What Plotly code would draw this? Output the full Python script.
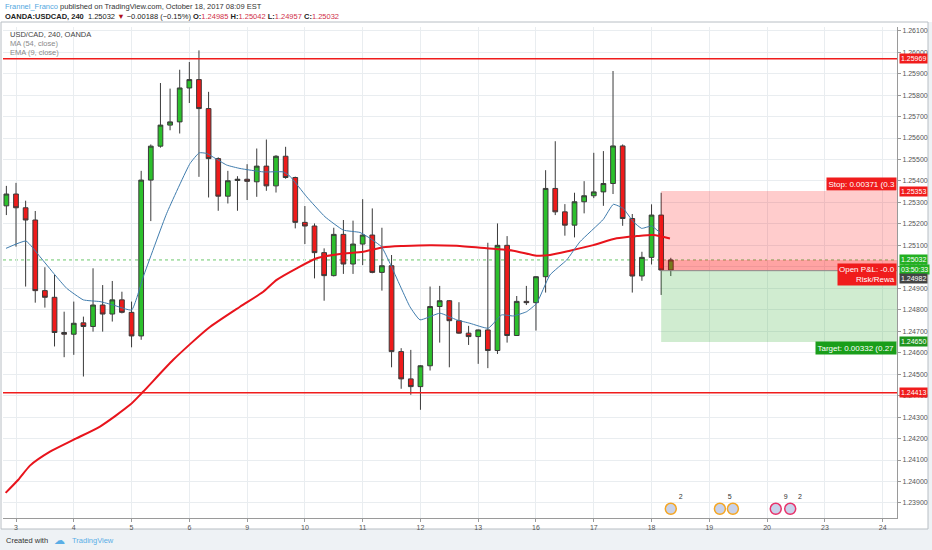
import plotly.graph_objects as go

# ---------------- data ----------------
bar_index = list(range(70))
open_ = [1.25284, 1.25339, 1.25275, 1.25218, 1.24889, 1.24858, 1.24694, 1.24686, 1.24739, 1.24722,
         1.24822, 1.24780, 1.24846, 1.24788, 1.24678, 1.25404, 1.25562, 1.25660, 1.25675, 1.25833,
         1.25872, 1.25737, 1.25504, 1.25329, 1.25402, 1.25408, 1.25396, 1.25469, 1.25377, 1.25515,
         1.25416, 1.25207, 1.25190, 1.25066, 1.24959, 1.25151, 1.25013, 1.25106, 1.25148, 1.24974,
         1.25005, 1.24605, 1.24478, 1.24442, 1.24539, 1.24815, 1.24842, 1.24749, 1.24691, 1.24675,
         1.24706, 1.24610, 1.25100, 1.24680, 1.24839, 1.24833, 1.24954, 1.25365, 1.25256, 1.25194,
         1.25303, 1.25331, 1.25349, 1.25388, 1.25563, 1.25225, 1.24957, 1.25044, 1.25241, 1.24985]
high = [1.25377, 1.25391, 1.25308, 1.25260, 1.24998, 1.24962, 1.24791, 1.24838, 1.24768, 1.24993,
        1.24915, 1.24934, 1.24884, 1.24838, 1.25447, 1.25570, 1.25856, 1.25830, 1.25918, 1.25954,
        1.26008, 1.25815, 1.25510, 1.25447, 1.25422, 1.25478, 1.25551, 1.25593, 1.25520, 1.25559,
        1.25420, 1.25283, 1.25202, 1.25086, 1.25182, 1.25218, 1.25215, 1.25315, 1.25272, 1.25182,
        1.25055, 1.24621, 1.24613, 1.24542, 1.24908, 1.24911, 1.24845, 1.24835, 1.24725, 1.24708,
        1.25112, 1.25202, 1.25143, 1.24864, 1.24911, 1.24956, 1.25450, 1.25585, 1.25292, 1.25345,
        1.25399, 1.25531, 1.25539, 1.25912, 1.25570, 1.25246, 1.25070, 1.25291, 1.25345, 1.25042]
low = [1.25241, 1.25094, 1.24908, 1.24833, 1.24810, 1.24629, 1.24579, 1.24590, 1.24489, 1.24698,
       1.24698, 1.24745, 1.24783, 1.24625, 1.24660, 1.25213, 1.25555, 1.25636, 1.25621, 1.25763,
       1.25419, 1.25323, 1.25261, 1.25295, 1.25261, 1.25311, 1.25326, 1.25354, 1.25346, 1.25410,
       1.25179, 1.25106, 1.24946, 1.24842, 1.24955, 1.24967, 1.24967, 1.25008, 1.24970, 1.24889,
       1.24532, 1.24432, 1.24404, 1.24334, 1.24517, 1.24647, 1.24532, 1.24688, 1.24636, 1.24548,
       1.24528, 1.24594, 1.24647, 1.24678, 1.24822, 1.24703, 1.24880, 1.25241, 1.25145, 1.25137,
       1.25249, 1.25320, 1.25284, 1.25339, 1.25191, 1.24880, 1.24935, 1.25011, 1.24869, 1.24957]
close = [1.25339, 1.25275, 1.25218, 1.24889, 1.24858, 1.24694, 1.24686, 1.24737, 1.24722, 1.24822,
         1.24780, 1.24846, 1.24788, 1.24678, 1.25404, 1.25562, 1.25660, 1.25675, 1.25833, 1.25872,
         1.25737, 1.25504, 1.25329, 1.25401, 1.25408, 1.25398, 1.25469, 1.25377, 1.25515, 1.25416,
         1.25207, 1.25190, 1.25066, 1.24959, 1.25151, 1.25013, 1.25106, 1.25148, 1.24974, 1.25005,
         1.24605, 1.24478, 1.24442, 1.24539, 1.24815, 1.24842, 1.24749, 1.24691, 1.24675, 1.24706,
         1.24610, 1.25100, 1.24680, 1.24839, 1.24833, 1.24954, 1.25365, 1.25256, 1.25194, 1.25303,
         1.25331, 1.25349, 1.25388, 1.25563, 1.25225, 1.24957, 1.25044, 1.25241, 1.24985, 1.25032]

# MA(54, close)
ma54_x = [-0.08, 1.24, 2.45, 4.53, 6.95, 9.72, 12.84, 14.22, 17.33, 20.97, 24.26, 26.68, 28.07,
          30.15, 32.23, 34.64, 37.06, 39.14, 41.22, 43.99, 46.76, 49.88, 52.64, 55.07, 56.45,
          58.53, 60.95, 63.38, 65.45, 67.18, 68.91]
ma54_y = [1.23947, 1.24008, 1.24074, 1.24139, 1.24194, 1.24256, 1.24357, 1.24419, 1.24567, 1.24714,
          1.24814, 1.24884, 1.24939, 1.24993, 1.25040, 1.25060, 1.25070, 1.25091, 1.25097, 1.25101,
          1.25098, 1.25086, 1.25075, 1.25052, 1.25055, 1.25075, 1.25101, 1.25133, 1.25143, 1.25148,
          1.25132]

# EMA(9, close)
ema9_x = [-0.04, 2.04, 3.49, 5.05, 6.26, 7.99, 9.72, 11.10, 13.01, 14.22, 16.65, 19.07, 20.03,
          20.80, 22.88, 24.26, 26.68, 28.76, 29.45, 31.19, 33.09, 34.99, 36.72, 37.76, 38.97,
          39.84, 41.91, 42.95, 45.03, 46.76, 48.14, 50.04, 51.44, 52.64, 54.03, 55.07, 56.45,
          58.19, 59.57, 61.99, 63.03, 64.06, 65.10, 65.97, 67.01, 67.87]
ema9_y = [1.25086, 1.25120, 1.25047, 1.24962, 1.24900, 1.24846, 1.24838, 1.24822, 1.24799, 1.24954,
          1.25249, 1.25481, 1.25531, 1.25528, 1.25474, 1.25458, 1.25442, 1.25442, 1.25422, 1.25326,
          1.25233, 1.25171, 1.25160, 1.25133, 1.25093, 1.25016, 1.24814, 1.24753, 1.24784, 1.24753,
          1.24737, 1.24714, 1.24776, 1.24771, 1.24791, 1.24830, 1.24962, 1.25032, 1.25117, 1.25221,
          1.25291, 1.25272, 1.25210, 1.25179, 1.25190, 1.25159]

day_tick_index = [1, 7, 13, 19, 25, 31, 37, 43, 49, 55, 61, 67, 73, 79, 85, 91]
day_tick_label = ['3', '4', '5', '6', '9', '10', '11', '12', '13', '16', '17', '18', '19', '20', '23', '24']
price_ticks = [1.239, 1.240, 1.241, 1.242, 1.243, 1.244, 1.245, 1.246, 1.247, 1.248, 1.249, 1.250,
               1.251, 1.252, 1.253, 1.254, 1.255, 1.256, 1.257, 1.258, 1.259, 1.260, 1.261]

resistance_level = 1.25969
support_level = 1.24413
entry_price = 1.24982
stop_price = 1.25353
target_price = 1.24650
position_start_bar = 68
change_text = "\u22120.00188 (\u22120.15%)"

event_bar = [69.0, 74.1, 75.45, 79.9, 81.4]
event_count = ['2', '5', '', '9', '2']
event_colour = ['#f5a623', '#f5a623', '#f5a623', '#e8336b', '#e8336b']

# ---------------- layout helpers ----------------
W, H = 932, 550
ML, MR, MT, MB = 3, 35, 27, 32
X_RANGE = [-0.35, 92.49]
Y_RANGE = [1.23830, 1.26117]


def pxx(x):
    return (x - ML) / (W - ML - MR)


def pxy(y):
    return (H - MB - y) / (H - MT - MB)


FONT = "Liberation Sans, Arial, sans-serif"
RED = "#f01c1c"
GREEN = "#22b022"

fig = go.Figure()

fig.add_trace(go.Candlestick(
    x=bar_index, open=open_, high=high, low=low, close=close,
    increasing=dict(fillcolor="#2cc02c", line=dict(color="#3a3a3a", width=1)),
    decreasing=dict(fillcolor="#ee1b1b", line=dict(color="#3a3a3a", width=1)),
    whiskerwidth=0, showlegend=False, hoverinfo="skip"))

fig.add_trace(go.Scatter(x=ma54_x, y=ma54_y, mode="lines",
                         line=dict(color="#e8141c", width=2, shape="spline", smoothing=0.6),
                         showlegend=False, hoverinfo="skip"))
fig.add_trace(go.Scatter(x=ema9_x, y=ema9_y, mode="lines",
                         line=dict(color="#3f7cad", width=1, shape="spline", smoothing=0.4),
                         showlegend=False, hoverinfo="skip"))

event_y = [Y_RANGE[0] + 0.00043] * len(event_bar)
fig.add_trace(go.Scatter(x=event_bar, y=event_y, mode="markers+text",
                         marker=dict(size=11, color="#c8d2ea", line=dict(color=event_colour, width=1.5)),
                         text=event_count, textposition="top right",
                         textfont=dict(size=7, color="#333", family=FONT),
                         showlegend=False, hoverinfo="skip", cliponaxis=False))

shapes = []
# page frame & footer
shapes.append(dict(type="rect", xref="paper", yref="paper", x0=pxx(-10), x1=pxx(W + 10),
                   y0=pxy(529), y1=pxy(H + 10), fillcolor="#eef2f5", line=dict(width=0), layer="below"))
shapes.append(dict(type="rect", xref="paper", yref="paper", x0=pxx(928), x1=pxx(W + 10),
                   y0=pxy(22), y1=pxy(529), fillcolor="#eef2f5", line=dict(width=0), layer="below"))
shapes.append(dict(type="rect", xref="paper", yref="paper", x0=pxx(1), x1=pxx(928),
                   y0=pxy(22), y1=pxy(529), fillcolor="rgba(0,0,0,0)", line=dict(color="#b8bec4", width=1),
                   layer="below"))
# key levels
for lvl in (resistance_level, support_level):
    shapes.append(dict(type="line", xref="paper", yref="y", x0=0, x1=1, y0=lvl, y1=lvl,
                       line=dict(color=RED, width=1.5)))
shapes.append(dict(type="line", xref="paper", yref="y", x0=0, x1=1, y0=close[-1], y1=close[-1],
                   line=dict(color="#6cc86c", width=1, dash="dot"), layer="below"))
# long/short position tool
shapes.append(dict(type="rect", xref="x", yref="y", x0=position_start_bar, x1=X_RANGE[1],
                   y0=entry_price, y1=stop_price, fillcolor="rgba(255,0,0,0.2)", line=dict(width=0),
                   layer="above"))
shapes.append(dict(type="rect", xref="x", yref="y", x0=position_start_bar, x1=X_RANGE[1],
                   y0=entry_price, y1=close[-1], fillcolor="rgba(255,0,0,0.2)", line=dict(width=0),
                   layer="above"))
shapes.append(dict(type="rect", xref="x", yref="y", x0=position_start_bar, x1=X_RANGE[1],
                   y0=target_price, y1=entry_price, fillcolor="rgba(40,170,40,0.22)", line=dict(width=0),
                   layer="above"))
shapes.append(dict(type="line", xref="x", yref="y", x0=position_start_bar, x1=X_RANGE[1],
                   y0=entry_price, y1=entry_price, line=dict(color="#8a8a8a", width=1)))

annotations = []
# header
annotations.append(dict(xref="paper", yref="paper", x=pxx(3), y=pxy(6.5), xanchor="left", yanchor="middle",
                        showarrow=False, font=dict(family=FONT, size=7.5, color="#333"),
                        text="<span style='color:#52a7e0'>Frannel_Franco</span> published on TradingView.com, "
                             "October 18, 2017 08:09 EST"))
vc = "#d0304a"
header2 = ("<b>OANDA:USDCAD, 240</b>  {c:.5f} <span style='color:#b0101a'>\u25bc</span> {chg} "
           "<b>O:</b><span style='color:{vc}'>{o:.5f}</span> <b>H:</b><span style='color:{vc}'>{h:.5f}</span> "
           "<b>L:</b><span style='color:{vc}'>{l:.5f}</span> <b>C:</b><span style='color:{vc}'>{c:.5f}</span>"
           ).format(c=close[-1], o=open_[-1], h=high[-1], l=low[-1], chg=change_text, vc=vc)
annotations.append(dict(xref="paper", yref="paper", x=pxx(3), y=pxy(16.5), xanchor="left", yanchor="middle",
                        showarrow=False, font=dict(family=FONT, size=7.5, color="#222"), text=header2))
# legend inside pane
for txt, yy, col in (("USD/CAD, 240, OANDA", 34, "#444"), ("MA (54, close)", 43.5, "#8a8a8a"),
                     ("EMA (9, close)", 52.5, "#8a8a8a")):
    annotations.append(dict(xref="paper", yref="paper", x=pxx(8), y=pxy(yy), xanchor="left", yanchor="middle",
                            showarrow=False, font=dict(family=FONT, size=7.5, color=col), text=txt))
# footer
annotations.append(dict(xref="paper", yref="paper", x=pxx(4), y=pxy(540), xanchor="left", yanchor="middle",
                        showarrow=False, font=dict(family=FONT, size=7.5, color="#333"), text="Created with"))
annotations.append(dict(xref="paper", yref="paper", x=pxx(52), y=pxy(540), xanchor="left", yanchor="middle",
                        showarrow=False, font=dict(family="DejaVu Sans", size=11, color="#5aaee6"), text="\u2601"))
annotations.append(dict(xref="paper", yref="paper", x=pxx(70), y=pxy(540), xanchor="left", yanchor="middle",
                        showarrow=False, font=dict(family=FONT, size=7.5, color="#5aaee6"), text="TradingView"))
# price tags on the axis
tags = [(resistance_level, resistance_level, RED, "{:.5f}".format(resistance_level)),
        (stop_price, stop_price, RED, "{:.5f}".format(stop_price)),
        (close[-1], close[-1], GREEN, "{:.5f}".format(close[-1])),
        (close[-1], 1.24988, GREEN, "03:50:33"),
        (entry_price, 1.24947, "#444444", "{:.5f}".format(entry_price)),
        (target_price, target_price, "#1e951e", "{:.5f}".format(target_price)),
        (support_level, support_level, RED, "{:.5f}".format(support_level))]
for _, ypos, col, txt in tags:
    annotations.append(dict(xref="paper", yref="y", x=1, y=ypos, xanchor="left", yanchor="middle", xshift=2,
                            showarrow=False, bgcolor=col, borderpad=1,
                            font=dict(family=FONT, size=7, color="white"), text=txt))
# position labels
annotations.append(dict(xref="paper", yref="y", x=1, y=1.25385, xanchor="right", yanchor="middle",
                        showarrow=False, bgcolor=RED, borderpad=1.5,
                        font=dict(family=FONT, size=8, color="white"),
                        text="Stop: {:.5f} (0.3".format(stop_price - entry_price)))
annotations.append(dict(xref="paper", yref="y", x=1, y=1.24962, xanchor="right", yanchor="middle",
                        showarrow=False, bgcolor=RED, borderpad=1, align="right",
                        font=dict(family=FONT, size=8, color="white"),
                        text="Open P&amp;L: -0.0<br>Risk/Rewa"))
annotations.append(dict(xref="paper", yref="y", x=1, y=1.24622, xanchor="right", yanchor="middle",
                        showarrow=False, bgcolor="#1a9e1a", borderpad=1.5,
                        font=dict(family=FONT, size=8, color="white"),
                        text="Target: {:.5f} (0.27".format(entry_price - target_price)))

fig.update_layout(
    width=W, height=H,
    margin=dict(l=ML, r=MR, t=MT, b=MB, pad=0),
    paper_bgcolor="white", plot_bgcolor="white",
    shapes=shapes, annotations=annotations,
    showlegend=False,
    xaxis=dict(range=X_RANGE, tickmode="array", tickvals=day_tick_index, ticktext=day_tick_label,
               showgrid=True, gridcolor="#e9edf0", gridwidth=1, zeroline=False,
               showline=True, linecolor="#9a9a9a", linewidth=1, mirror=False,
               ticks="outside", ticklen=3, tickcolor="#9a9a9a",
               tickfont=dict(family=FONT, size=7, color="#555"),
               rangeslider=dict(visible=False), fixedrange=True),
    yaxis=dict(range=Y_RANGE, side="right", tickmode="array", tickvals=price_ticks,
               ticktext=["{:.5f}".format(v) for v in price_ticks],
               showgrid=True, gridcolor="#e9edf0", gridwidth=1, zeroline=False,
               showline=True, linecolor="#9a9a9a", linewidth=1,
               ticks="outside", ticklen=3, tickcolor="#9a9a9a",
               tickfont=dict(family=FONT, size=7, color="#555"), fixedrange=True),
)

fig.write_html("out.html", config={"displayModeBar": False},
               post_script="document.body.style.margin='0';document.body.style.overflow='hidden';")
